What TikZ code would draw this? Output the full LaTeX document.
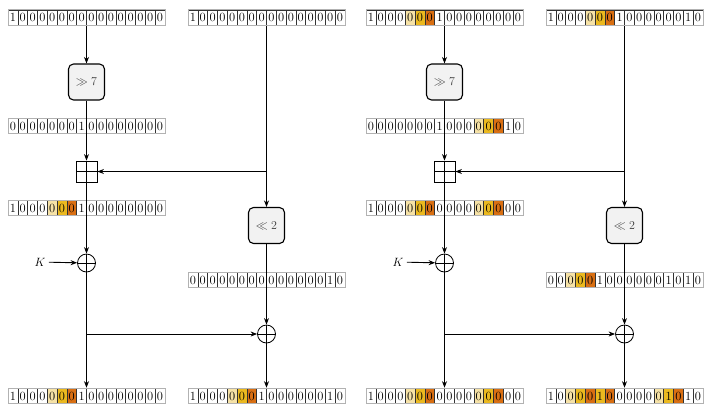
\documentclass[tikz,border=0pt]{standalone}
\usepackage{tikz}
\usetikzlibrary{arrows.meta,calc}
\usepackage{xcolor}
\usepackage{amsmath,amssymb}

\definecolor{bitW}{HTML}{FFFFFF}
\definecolor{bitL}{HTML}{F6E2A6}
\definecolor{bitY}{HTML}{EBB91F}
\definecolor{bitO}{HTML}{D96F12}

\tikzset{
  bitcell/.style={draw=black!80, line width=0.5pt, minimum width=9.8, minimum height=15,
    inner sep=0pt, font=\fontsize{12.5}{13}\selectfont},
  bitframe/.style={draw=gray!60, line width=1pt, minimum width=157, minimum height=15.6, inner sep=0pt},
  opbox/.style={draw, rounded corners=5pt, line width=1.1pt, fill=gray!10, minimum size=36,
    font=\fontsize{13}{14}\selectfont, text=black!75},
  mixbox/.style={draw, line width=0.8pt, minimum size=21, inner sep=0pt,
    path picture={\draw[line width=0.8pt] (path picture bounding box.north) -- (path picture bounding box.south)
      (path picture bounding box.west) -- (path picture bounding box.east);}},
  xorop/.style={circle, draw, line width=0.8pt, minimum size=18, inner sep=0pt,
    path picture={\draw[line width=0.8pt] (path picture bounding box.north) -- (path picture bounding box.south)
      (path picture bounding box.west) -- (path picture bounding box.east);}},
  flow/.style={->, line width=0.9pt},
}

% one 16-bit word: name, centre, list of bit/colour
\newcommand{\bitrow}[3]{%
  \foreach \bval/\bcol [count=\i from 0] in {#3}
    \node[bitcell, fill=bit\bcol] (#1-\i) at ($(#2)+(\i*9.8-73.5,0)$) {\bval};
  \node[bitframe] (#1) at (#2) {};
}

\begin{document}
\begin{tikzpicture}[x=1pt, y=-1pt, >={Stealth[length=6.5pt,width=5pt]}]
  \useasboundingbox (0,0) rectangle (706,405);

  %% ── Left: plain inputs ─────────────────────────────────────
  \begin{scope}
  \bitrow{L-xa}{86.5,17.5}{1/W,0/W,0/W,0/W,0/W,0/W,0/W,0/W,0/W,0/W,0/W,0/W,0/W,0/W,0/W,0/W}
  \bitrow{L-xb}{266.5,17.5}{1/W,0/W,0/W,0/W,0/W,0/W,0/W,0/W,0/W,0/W,0/W,0/W,0/W,0/W,0/W,0/W}
  \node[opbox] (L-shr) at (86.5,82) {$\gg 7$};
  \bitrow{L-ra}{86.5,126}{0/W,0/W,0/W,0/W,0/W,0/W,0/W,1/W,0/W,0/W,0/W,0/W,0/W,0/W,0/W,0/W}
  \node[mixbox] (L-mix) at (86.5,171.5) {};
  \bitrow{L-rmix}{86.5,208}{1/W,0/W,0/W,0/W,0/L,0/Y,0/O,1/W,0/W,0/W,0/W,0/W,0/W,0/W,0/W,0/W}
  \node[opbox] (L-shl) at (266.5,225.5) {$\ll 2$};
  \node[xorop] (L-addK) at (86.5,263) {};
  \node[font=\large] (L-K) at (40,262) {$K$};
  \bitrow{L-rshl}{266.5,280}{0/W,0/W,0/W,0/W,0/W,0/W,0/W,0/W,0/W,0/W,0/W,0/W,0/W,0/W,1/W,0/W}
  \node[xorop] (L-xor) at (266.5,334) {};
  \bitrow{L-outA}{86.5,396}{1/W,0/W,0/W,0/W,0/L,0/Y,0/O,1/W,0/W,0/W,0/W,0/W,0/W,0/W,0/W,0/W}
  \bitrow{L-outB}{266.5,396}{1/W,0/W,0/W,0/W,0/L,0/Y,0/O,1/W,0/W,0/W,0/W,0/W,0/W,0/W,1/W,0/W}
  %% wires
  \draw[flow] (L-xa) -- (L-shr);
  \draw[flow] (L-shr) -- (L-mix);
  \draw[flow] (L-mix) -- (L-addK);
  \draw[flow] (L-addK) -- (L-outA);
  \draw[flow] (L-K) -- (L-addK);
  \draw[flow] (L-xb) -- (L-shl);
  \draw[flow] (L-xb |- L-mix) -- (L-mix);
  \draw[flow] (L-shl) -- (L-xor);
  \draw[flow] (L-xa |- L-xor) -- (L-xor);
  \draw[flow] (L-xor) -- (L-outB);
  \end{scope}

  %% ── Right: differences marked ──────────────────────────────
  \begin{scope}[xshift=358]
  \bitrow{R-xa}{86.5,17.5}{1/W,0/W,0/W,0/W,0/L,0/Y,0/O,1/W,0/W,0/W,0/W,0/W,0/W,0/W,0/W,0/W}
  \bitrow{R-xb}{266.5,17.5}{1/W,0/W,0/W,0/W,0/L,0/Y,0/O,1/W,0/W,0/W,0/W,0/W,0/W,0/W,1/W,0/W}
  \node[opbox] (R-shr) at (86.5,82) {$\gg 7$};
  \bitrow{R-ra}{86.5,126}{0/W,0/W,0/W,0/W,0/W,0/W,0/W,1/W,0/W,0/W,0/W,0/L,0/Y,0/O,1/W,0/W}
  \node[mixbox] (R-mix) at (86.5,171.5) {};
  \bitrow{R-rmix}{86.5,208}{1/W,0/W,0/W,0/W,0/L,0/Y,0/O,0/W,0/W,0/W,0/W,0/L,0/Y,0/O,0/W,0/W}
  \node[opbox] (R-shl) at (266.5,225.5) {$\ll 2$};
  \node[xorop] (R-addK) at (86.5,263) {};
  \node[font=\large] (R-K) at (40,262) {$K$};
  \bitrow{R-rshl}{266.5,280}{0/W,0/W,0/L,0/Y,0/O,1/W,0/W,0/W,0/W,0/W,0/W,0/W,1/W,0/W,1/W,0/W}
  \node[xorop] (R-xor) at (266.5,334) {};
  \bitrow{R-outA}{86.5,396}{1/W,0/W,0/W,0/W,0/L,0/Y,0/O,0/W,0/W,0/W,0/W,0/L,0/Y,0/O,0/W,0/W}
  \bitrow{R-outB}{266.5,396}{1/W,0/W,0/L,0/Y,0/O,1/Y,0/O,0/W,0/W,0/W,0/W,0/L,1/Y,0/O,1/W,0/W}
  %% wires
  \draw[flow] (R-xa) -- (R-shr);
  \draw[flow] (R-shr) -- (R-mix);
  \draw[flow] (R-mix) -- (R-addK);
  \draw[flow] (R-addK) -- (R-outA);
  \draw[flow] (R-K) -- (R-addK);
  \draw[flow] (R-xb) -- (R-shl);
  \draw[flow] (R-xb |- R-mix) -- (R-mix);
  \draw[flow] (R-shl) -- (R-xor);
  \draw[flow] (R-xa |- R-xor) -- (R-xor);
  \draw[flow] (R-xor) -- (R-outB);
  \end{scope}
\end{tikzpicture}
\end{document}
